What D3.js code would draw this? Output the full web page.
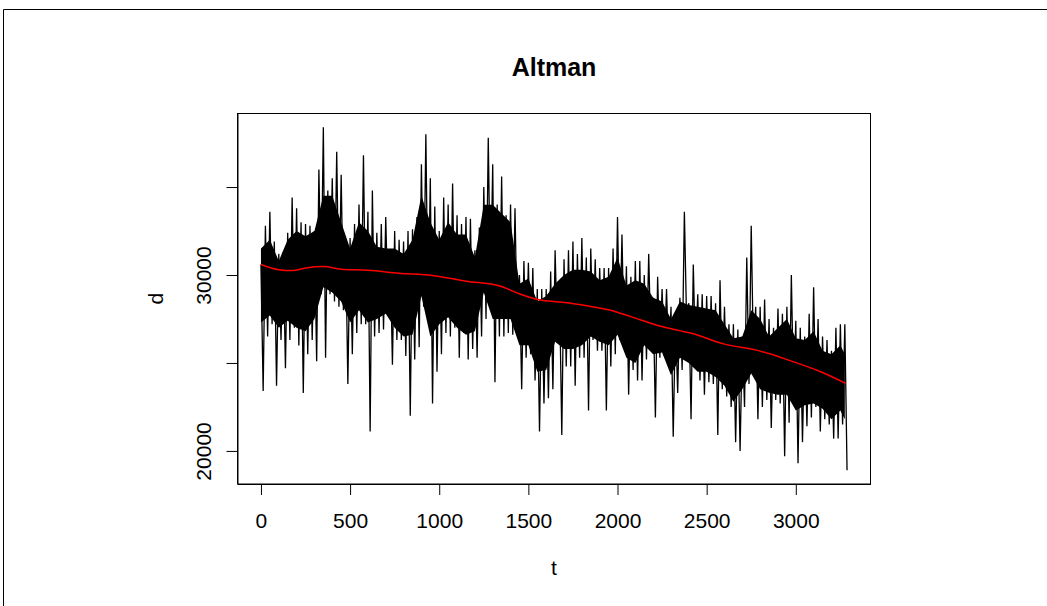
<!DOCTYPE html>
<html>
<head>
<meta charset="utf-8">
<script src="https://cdn.jsdelivr.net/npm/d3@7/dist/d3.min.js"></script>
<style>
  body { margin: 0; background: #ffffff; }
  svg { display: block; font-family: "Liberation Sans", Arial, sans-serif; }
</style>
</head>
<body>
<div id="chart"></div>
<script>
const width = 1047;
const height = 606;
const box = { left: 237.5, right: 870.5, top: 113.5, bottom: 484 };

const t = [
  0, 25, 50, 75, 100, 125, 150, 175, 200, 225, 250, 275, 300, 325, 350, 375, 400, 425, 450, 475,
  500, 525, 550, 575, 600, 625, 650, 675, 700, 725, 750, 775, 800, 825, 850, 875, 900, 925, 950, 975,
  1000, 1025, 1050, 1075, 1100, 1125, 1150, 1175, 1200, 1225, 1250, 1275, 1300, 1325, 1350, 1375, 1400, 1425, 1450, 1475,
  1500, 1525, 1550, 1575, 1600, 1625, 1650, 1675, 1700, 1725, 1750, 1775, 1800, 1825, 1850, 1875, 1900, 1925, 1950, 1975,
  2000, 2025, 2050, 2075, 2100, 2125, 2150, 2175, 2200, 2225, 2250, 2275, 2300, 2325, 2350, 2375, 2400, 2425, 2450, 2475,
  2500, 2525, 2550, 2575, 2600, 2625, 2650, 2675, 2700, 2725, 2750, 2775, 2800, 2825, 2850, 2875, 2900, 2925, 2950, 2975,
  3000, 3025, 3050, 3075, 3100, 3125, 3150, 3175, 3200, 3225, 3250, 3275
];
const high = [
  30600, 32800, 33600, 31900, 31200, 31300, 32400, 34400, 33800, 33000, 32900, 32800, 32500, 36000, 38400, 34800, 35500, 37000, 35700, 32000,
  32100, 32900, 34000, 36800, 33600, 34800, 32400, 32900, 33300, 31300, 32500, 32000, 31900, 32500, 32600, 33300, 36300, 38000, 35500, 33900,
  32500, 34400, 34000, 35200, 33400, 32900, 33300, 33200, 31400, 32700, 35000, 37800, 36300, 34000, 35600, 33400, 34000, 33800, 30000, 30800,
  30700, 30400, 29200, 29200, 29200, 30200, 31400, 29000, 30900, 31400, 31900, 31200, 32100, 31000, 31500, 30900, 30400, 30400, 30400, 31500,
  33300, 32300, 30500, 29900, 30800, 30800, 30000, 31200, 28700, 29900, 29200, 29200, 28200, 27600, 28700, 33600, 28400, 30600, 28900, 28900,
  28800, 28800, 28400, 29700, 28200, 27200, 27200, 26900, 26500, 31000, 32800, 28200, 28200, 28600, 27500, 27000, 28100, 27800, 28200, 30000,
  27400, 27000, 26500, 27800, 29300, 27500, 26500, 26300, 25700, 27000, 27200, 27200
];
const low = [
  23400, 26500, 27200, 23700, 26300, 24700, 26300, 27000, 26000, 23300, 25500, 26300, 25100, 28900, 25300, 28900, 28500, 28200, 28000, 23800,
  25500, 26700, 27200, 27200, 21100, 26500, 26700, 26900, 28000, 24900, 26300, 26300, 25400, 22000, 25200, 25900, 28200, 27500, 22700, 24500,
  25500, 26700, 26500, 27000, 25300, 26700, 25200, 25800, 25300, 26500, 27500, 28900, 23900, 26500, 26500, 26700, 26600, 26700, 23500, 25300,
  25500, 24000, 21100, 22700, 23000, 23500, 26300, 20900, 24800, 24800, 23700, 25300, 25300, 22300, 26300, 25700, 25700, 22300, 24800, 25500,
  26300, 25800, 23200, 24600, 24000, 24000, 25200, 25900, 21900, 25300, 25400, 24900, 20800, 23300, 24600, 27400, 21800, 25200, 24000, 23200,
  23900, 23800, 20900, 23500, 23100, 22500, 20500, 20000, 22500, 23800, 25300, 21800, 22500, 22900, 21300, 22900, 22700, 19700, 21600, 23300,
  19300, 20500, 21400, 21900, 22500, 21100, 21800, 21500, 20700, 20700, 21500, 18900
];
// lows sit half a step after the highs
const halfStep = 12.5;

// the solid black core of the trace (where the line overplots), every 50 steps
const coreT = [
  0, 50, 100, 150, 200, 250, 300, 350, 400, 450, 500, 550, 600, 650, 700, 750, 800, 850, 900, 950,
  1000, 1050, 1100, 1150, 1200, 1250, 1300, 1350, 1400, 1450, 1500, 1550, 1600, 1650, 1700, 1750, 1800, 1850, 1900, 1950,
  2000, 2050, 2100, 2150, 2200, 2250, 2300, 2350, 2400, 2450, 2500, 2550, 2600, 2650, 2700, 2750, 2800, 2850, 2900, 2950,
  3000, 3050, 3100, 3150, 3200, 3250, 3275
];
const coreHigh = [
  31500, 32000, 30800, 32000, 32500, 32200, 32500, 34500, 34500, 33000, 31500, 33000, 32500, 31600, 31500, 31500, 31200, 32000, 34500, 33000,
  32000, 33000, 32300, 32300, 31000, 34000, 34000, 33500, 33000, 29500, 29800, 28500, 28800, 29500, 30000, 30300, 30300, 30200, 29700, 29900,
  31000, 29400, 29700, 29500, 28700, 28500, 27500, 28500, 28300, 28200, 28100, 28000, 27200, 26400, 26500, 28000, 27500, 26500, 27000, 27500,
  26400, 26300, 26800, 25700, 25500, 26000, 25500
];
const coreLow = [
  27300, 27700, 27000, 27400, 27000, 26800, 27500, 29300, 29000, 28500, 27300, 28000, 27300, 27500, 27800, 27000, 26500, 26600, 28800, 26500,
  27200, 27600, 27000, 26600, 26800, 29000, 27500, 27500, 27500, 26000, 26000, 24500, 24600, 26200, 25800, 25800, 26000, 26500, 26200, 26000,
  26600, 25300, 25000, 26000, 25500, 25600, 24300, 25300, 25000, 24500, 24500, 24200, 23700, 22800, 23500, 24400, 23500, 23300, 23200, 23200,
  22300, 22600, 22700, 22400, 21800, 22300, 21800
];

// smooth trend (red)
const trendT = [0, 100, 175, 250, 350, 450, 600, 775, 960, 1150, 1340, 1450, 1560, 1690, 1820, 1950, 2070, 2230, 2420, 2600, 2780, 2960, 3140, 3280];
const trendD = [30600, 30300, 30250, 30400, 30480, 30330, 30270, 30100, 29970, 29650, 29370, 28930, 28590, 28450, 28270, 28020, 27650, 27120, 26670, 26070, 25730, 25160, 24500, 23840];

const xTicks = [0, 500, 1000, 1500, 2000, 2500, 3000];
const yTicks = [20000, 25000, 30000, 35000];
const yLabelled = [20000, 30000];

const series = [];
t.forEach((d, i) => {
  series.push({ t: d, d: high[i] });
  series.push({ t: d + halfStep, d: low[i] });
});

// SCALES (R style: 4% padding on each side)
const tExt = d3.extent(series, (p) => p.t);
const dExt = d3.extent(series, (p) => p.d);
const tPad = (tExt[1] - tExt[0]) * 0.04;
const dPad = (dExt[1] - dExt[0]) * 0.04;

const x = d3
  .scaleLinear()
  .domain([tExt[0] - tPad, tExt[1] + tPad])
  .range([box.left, box.right]);

const y = d3
  .scaleLinear()
  .domain([dExt[0] - dPad, dExt[1] + dPad])
  .range([box.bottom, box.top]);

// SVG
const svg = d3
  .select("#chart")
  .append("svg")
  .attr("width", width)
  .attr("height", height);

svg.append("rect").attr("width", width).attr("height", height).attr("fill", "#fff");

// outer frame (cut by the image edge)
svg
  .append("path")
  .attr("d", `M3.5,${height} V9.5 H${width}`)
  .attr("fill", "none")
  .attr("stroke", "#000")
  .attr("stroke-width", 1);

// DENSE CORE + LINE
const coreArea = d3
  .area()
  .x((d, i) => x(coreT[i]))
  .y0((d, i) => y(coreLow[i]))
  .y1((d) => y(d));

svg
  .append("path")
  .attr("d", coreArea(coreHigh))
  .attr("fill", "#000");

const line = d3
  .line()
  .x((p) => x(p.t))
  .y((p) => y(p.d));

svg
  .append("path")
  .attr("d", line(series))
  .attr("fill", "none")
  .attr("stroke", "#000")
  .attr("stroke-width", 1.3)
  .attr("stroke-linejoin", "miter")
  .attr("stroke-miterlimit", 2);

const trendLine = d3
  .line()
  .x((d, i) => x(trendT[i]))
  .y((d) => y(d))
  .curve(d3.curveMonotoneX);

svg
  .append("path")
  .attr("d", trendLine(trendD))
  .attr("fill", "none")
  .attr("stroke", "#ff0000")
  .attr("stroke-width", 1.5);

// AXES
const labelFont = "21px";

const xAxis = d3.axisBottom(x).tickValues(xTicks).tickSize(11).tickSizeOuter(0).tickFormat(d3.format("d"));
const gx = svg.append("g").attr("transform", `translate(0,${box.bottom})`).call(xAxis);
gx.selectAll("text")
  .attr("y", 44)
  .attr("dy", 0)
  .attr("fill", "#000")
  .style("font-size", labelFont)
  .style("font-family", "Liberation Sans, Arial, sans-serif");

const yAxis = d3
  .axisLeft(y)
  .tickValues(yTicks)
  .tickSize(11)
  .tickSizeOuter(0)
  .tickFormat((d) => (yLabelled.includes(d) ? d3.format("d")(d) : ""));
const gy = svg.append("g").attr("transform", `translate(${box.left},0)`).call(yAxis);
gy.selectAll("text")
  .attr("x", 0)
  .attr("y", 0)
  .attr("dy", 0)
  .attr("text-anchor", "middle")
  .attr("transform", "translate(-27,0) rotate(-90)")
  .attr("fill", "#000")
  .style("font-size", labelFont)
  .style("font-family", "Liberation Sans, Arial, sans-serif");

svg.selectAll(".domain, .tick line").attr("stroke", "#000").attr("stroke-width", 1);

// plot box
svg
  .append("rect")
  .attr("x", box.left)
  .attr("y", box.top)
  .attr("width", box.right - box.left)
  .attr("height", box.bottom - box.top)
  .attr("fill", "none")
  .attr("stroke", "#000")
  .attr("stroke-width", 1);

// LABELS
svg
  .append("text")
  .text("Altman")
  .attr("x", (box.left + box.right) / 2)
  .attr("y", 76)
  .attr("text-anchor", "middle")
  .style("font-size", "25px")
  .style("font-weight", "bold");

svg
  .append("text")
  .text("t")
  .attr("x", (box.left + box.right) / 2)
  .attr("y", 575)
  .attr("text-anchor", "middle")
  .style("font-size", labelFont);

svg
  .append("text")
  .text("d")
  .attr("transform", `translate(163,${(box.top + box.bottom) / 2}) rotate(-90)`)
  .attr("text-anchor", "middle")
  .style("font-size", labelFont);
</script>
</body>
</html>
